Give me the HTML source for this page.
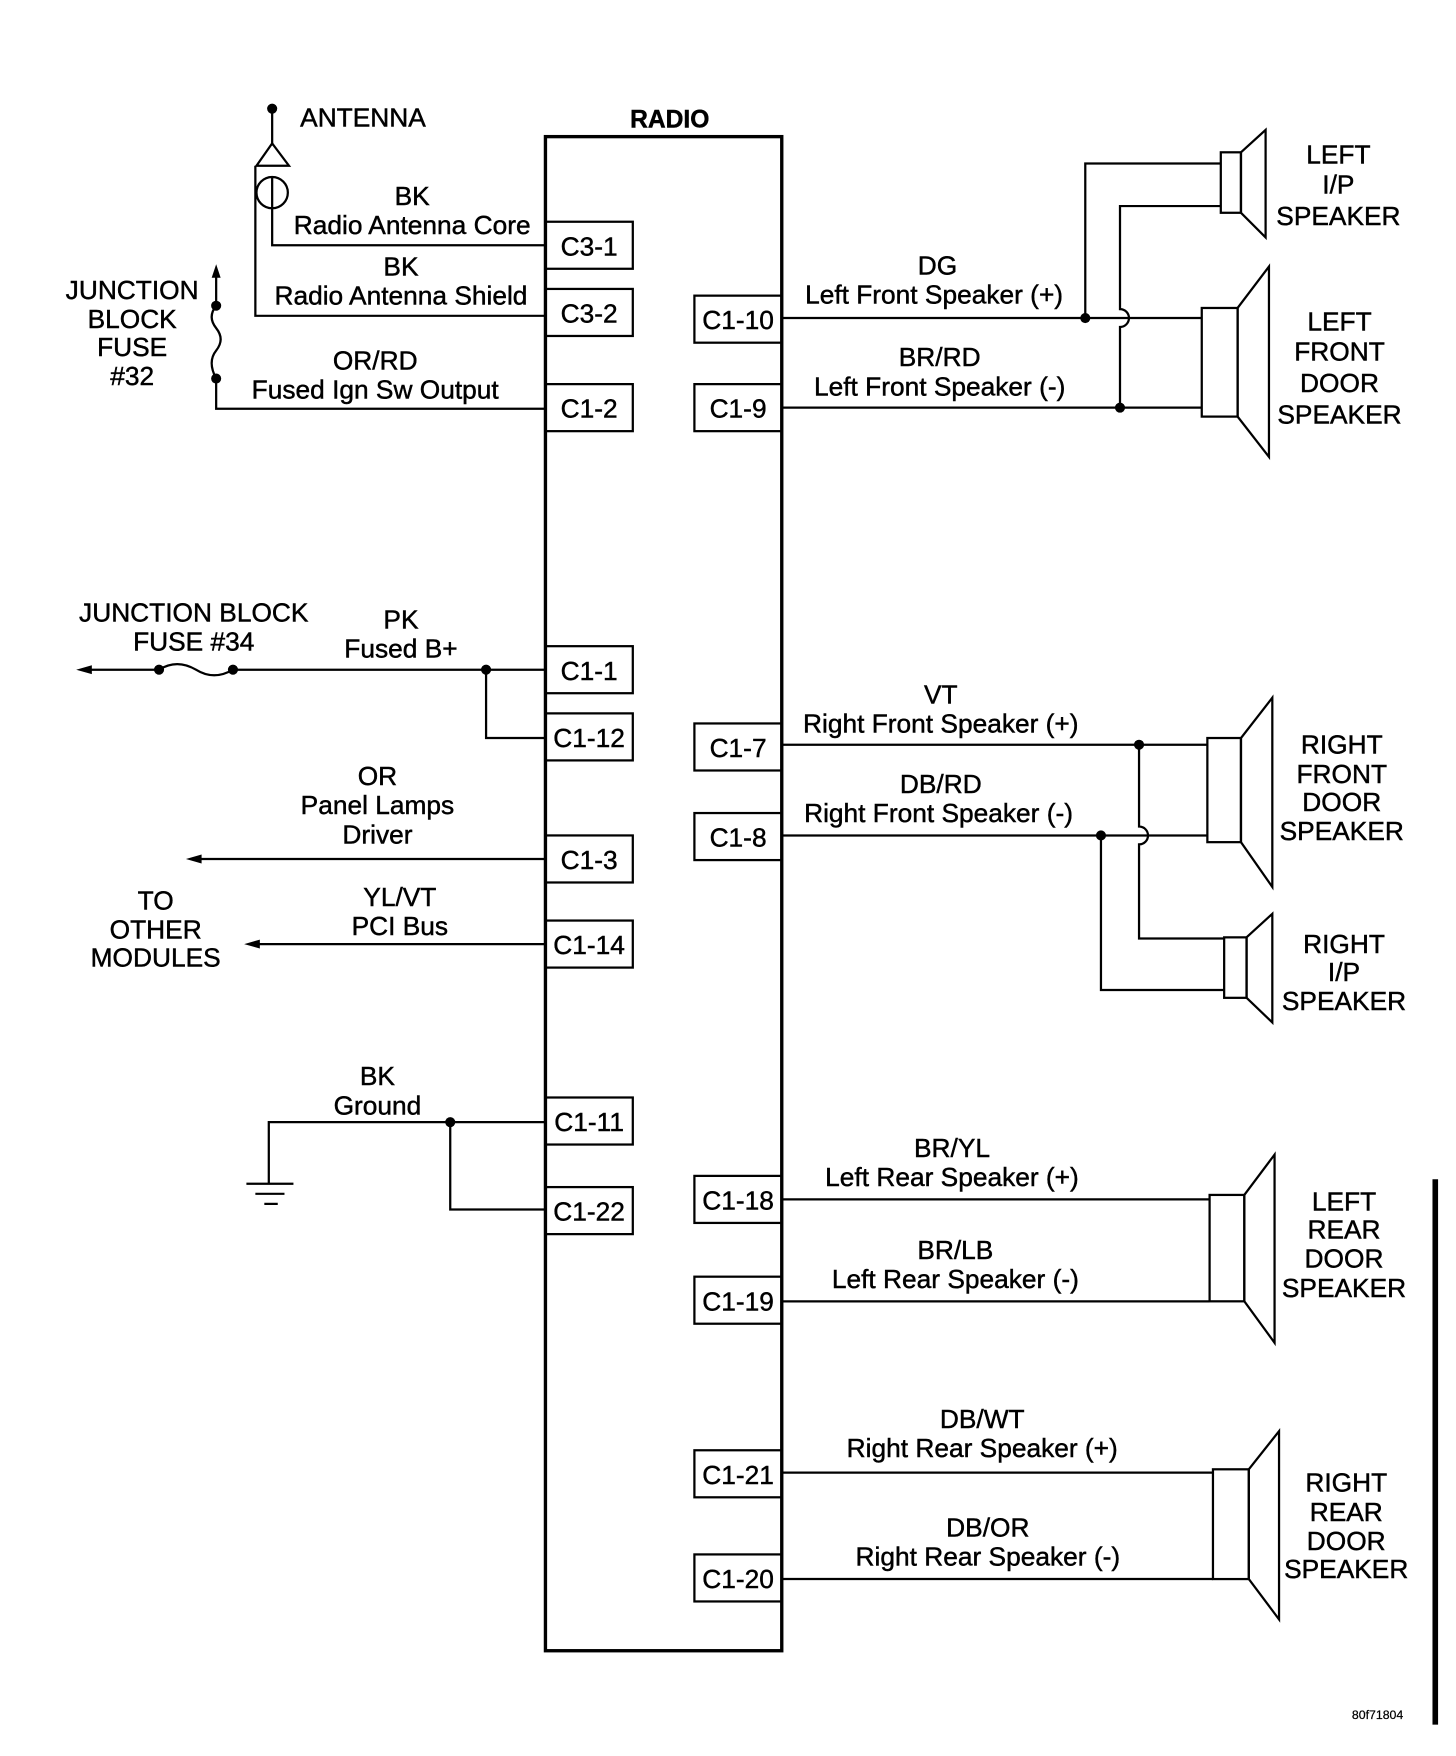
<!DOCTYPE html>
<html><head><style>html,body{margin:0;padding:0;background:#fff}svg{display:block}</style></head>
<body>
<svg width="1456" height="1756" viewBox="0 0 1300 1568" preserveAspectRatio="none" xmlns="http://www.w3.org/2000/svg" font-family="Liberation Sans, Arial, sans-serif" font-size="23.5" fill="#000">
<g stroke="#000" stroke-width="2" fill="none">
<rect x="487" y="122" width="211" height="1352" stroke-width="3"/>
<rect x="487" y="198" width="78" height="42"/>
<rect x="487" y="258" width="78" height="42"/>
<rect x="487" y="343" width="78" height="42"/>
<rect x="487" y="577" width="78" height="42"/>
<rect x="487" y="637" width="78" height="42"/>
<rect x="487" y="746" width="78" height="42"/>
<rect x="487" y="822" width="78" height="42"/>
<rect x="487" y="980" width="78" height="42"/>
<rect x="487" y="1060" width="78" height="42"/>
<rect x="620" y="264" width="78" height="42"/>
<rect x="620" y="343" width="78" height="42"/>
<rect x="620" y="646" width="78" height="42"/>
<rect x="620" y="726" width="78" height="42"/>
<rect x="620" y="1050" width="78" height="42"/>
<rect x="620" y="1140" width="78" height="42"/>
<rect x="620" y="1295" width="78" height="42"/>
<rect x="620" y="1388" width="78" height="42"/>
<line x1="243" y1="97" x2="243" y2="130"/>
<polygon points="243,128 229,148 258,148"/>
<circle cx="243" cy="172" r="14"/>
<polyline points="243,158 243,219 487,219"/>
<polyline points="228,148 228,282 487,282"/>
<line x1="193" y1="244" x2="193" y2="273"/>
<path d="M193,273 q-8,10 0,20 q8,10 0,20 q-8,10 0,25"/>
<polyline points="193,338 193,365 487,365"/>
<line x1="76" y1="598" x2="142" y2="598"/>
<path d="M142,598 q16,-10 33,0 q16,10 33,0"/>
<line x1="208" y1="598" x2="487" y2="598"/>
<polyline points="434,598 434,659 487,659"/>
<line x1="176" y1="767" x2="487" y2="767"/>
<line x1="228" y1="843" x2="487" y2="843"/>
<polyline points="487,1002 240,1002 240,1057"/>
<line x1="220" y1="1057" x2="262" y2="1057"/>
<line x1="228" y1="1066" x2="254" y2="1066"/>
<line x1="236" y1="1075" x2="248" y2="1075"/>
<polyline points="402,1002 402,1080 487,1080"/>
<line x1="698" y1="284" x2="1073" y2="284"/>
<line x1="698" y1="364" x2="1073" y2="364"/>
<polyline points="969,284 969,146 1090,146"/>
<path d="M1000,364 L1000,292 a8,8 0 0 0 0,-16 L1000,184 L1090,184"/>
<rect x="1090" y="136" width="18" height="54"/>
<polygon points="1108,136 1130,116 1130,212 1108,190"/>
<rect x="1073" y="275" width="32" height="97"/>
<polygon points="1105,275 1133,238 1133,408 1105,372"/>
<line x1="698" y1="665" x2="1078" y2="665"/>
<line x1="698" y1="746" x2="1078" y2="746"/>
<path d="M1017,665 L1017,738 a8,8 0 0 1 0,16 L1017,838 L1093,838"/>
<polyline points="983,746 983,884 1093,884"/>
<rect x="1078" y="659" width="30" height="93"/>
<polygon points="1108,659 1136,623 1136,792 1108,752"/>
<rect x="1093" y="837" width="20" height="54"/>
<polygon points="1113,837 1136,816 1136,913 1113,891"/>
<line x1="698" y1="1071" x2="1080" y2="1071"/>
<line x1="698" y1="1162" x2="1080" y2="1162"/>
<rect x="1080" y="1067" width="31" height="95"/>
<polygon points="1111,1067 1138,1031 1138,1199 1111,1162"/>
<line x1="698" y1="1315" x2="1083" y2="1315"/>
<line x1="698" y1="1410" x2="1083" y2="1410"/>
<rect x="1083" y="1312" width="32" height="98"/>
<polygon points="1115,1312 1142,1278 1142,1446 1115,1410"/>
</g>
<g stroke="none">
<circle cx="243" cy="97" r="4.5"/>
<circle cx="193" cy="273" r="4.5"/><circle cx="193" cy="338" r="4.5"/>
<polygon points="193,236 189,248 197,248"/>
<circle cx="142" cy="598" r="4.5"/><circle cx="208" cy="598" r="4.5"/><circle cx="434" cy="598" r="4.5"/>
<polygon points="68,598 82,594 82,602"/>
<polygon points="166,767 180,763 180,771"/>
<polygon points="218,843 232,839 232,847"/>
<circle cx="402" cy="1002" r="4.5"/>
<circle cx="969" cy="284" r="4.5"/><circle cx="1000" cy="364" r="4.5"/>
<circle cx="1017" cy="665" r="4.5"/><circle cx="983" cy="746" r="4.5"/>
<rect x="1279" y="1053" width="5" height="487"/>
</g>
<g text-anchor="middle" stroke="#000" stroke-width="0.4">
<text x="598" y="114" font-weight="bold" font-size="22">RADIO</text>
<text x="526" y="228">C3-1</text><text x="526" y="288">C3-2</text><text x="526" y="373">C1-2</text>
<text x="526" y="607">C1-1</text><text x="526" y="667">C1-12</text><text x="526" y="776">C1-3</text>
<text x="526" y="852">C1-14</text><text x="526" y="1010">C1-11</text><text x="526" y="1090">C1-22</text>
<text x="659" y="294">C1-10</text><text x="659" y="373">C1-9</text><text x="659" y="676">C1-7</text>
<text x="659" y="756">C1-8</text><text x="659" y="1080">C1-18</text><text x="659" y="1170">C1-19</text>
<text x="659" y="1325">C1-21</text><text x="659" y="1418">C1-20</text>
<text x="368" y="183">BK</text><text x="368" y="209">Radio Antenna Core</text>
<text x="358" y="246">BK</text><text x="358" y="272">Radio Antenna Shield</text>
<text x="118" y="267">JUNCTION</text><text x="118" y="293">BLOCK</text><text x="118" y="318">FUSE</text><text x="118" y="344">#32</text>
<text x="335" y="330">OR/RD</text><text x="335" y="356">Fused Ign Sw Output</text>
<text x="173" y="555">JUNCTION BLOCK</text><text x="173" y="581">FUSE #34</text>
<text x="358" y="561">PK</text><text x="358" y="587">Fused B+</text>
<text x="337" y="701">OR</text><text x="337" y="727">Panel Lamps</text><text x="337" y="753">Driver</text>
<text x="139" y="812">TO</text><text x="139" y="838">OTHER</text><text x="139" y="863">MODULES</text>
<text x="357" y="809">YL/VT</text><text x="357" y="835">PCI Bus</text>
<text x="337" y="969">BK</text><text x="337" y="995">Ground</text>
<text x="837" y="245">DG</text><text x="834" y="271">Left Front Speaker (+)</text>
<text x="839" y="327">BR/RD</text><text x="839" y="353">Left Front Speaker (-)</text>
<text x="840" y="628">VT</text><text x="840" y="654">Right Front Speaker (+)</text>
<text x="840" y="708">DB/RD</text><text x="838" y="734">Right Front Speaker (-)</text>
<text x="850" y="1033">BR/YL</text><text x="850" y="1059">Left Rear Speaker (+)</text>
<text x="853" y="1124">BR/LB</text><text x="853" y="1150">Left Rear Speaker (-)</text>
<text x="877" y="1275">DB/WT</text><text x="877" y="1301">Right Rear Speaker (+)</text>
<text x="882" y="1372">DB/OR</text><text x="882" y="1398">Right Rear Speaker (-)</text>
<text x="1195" y="146">LEFT</text><text x="1195" y="173">I/P</text><text x="1195" y="201">SPEAKER</text>
<text x="1196" y="295">LEFT</text><text x="1196" y="322">FRONT</text><text x="1196" y="350">DOOR</text><text x="1196" y="378">SPEAKER</text>
<text x="1198" y="673">RIGHT</text><text x="1198" y="699">FRONT</text><text x="1198" y="724">DOOR</text><text x="1198" y="750">SPEAKER</text>
<text x="1200" y="851">RIGHT</text><text x="1200" y="876">I/P</text><text x="1200" y="902">SPEAKER</text>
<text x="1200" y="1081">LEFT</text><text x="1200" y="1106">REAR</text><text x="1200" y="1132">DOOR</text><text x="1200" y="1158">SPEAKER</text>
<text x="1202" y="1332">RIGHT</text><text x="1202" y="1358">REAR</text><text x="1202" y="1384">DOOR</text><text x="1202" y="1409">SPEAKER</text>
<text x="1230" y="1535" font-size="11" stroke-width="0.2">80f71804</text>
</g>
<text x="268" y="113" stroke="#000" stroke-width="0.4">ANTENNA</text>
</svg>
</body></html>
